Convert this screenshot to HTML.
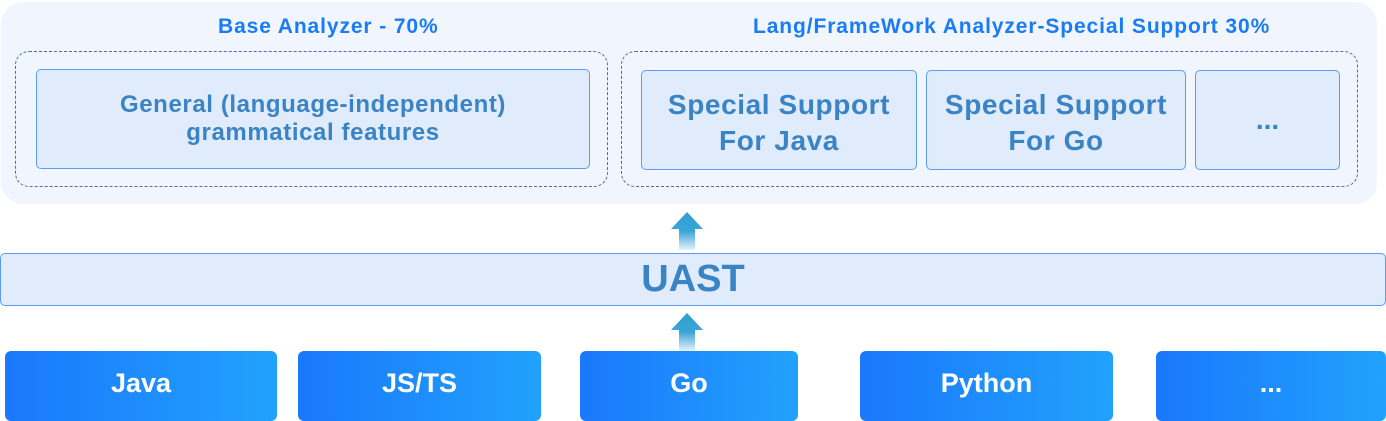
<!DOCTYPE html>
<html><head><meta charset="utf-8"><style>
body{margin:0;width:1386px;height:420px;position:relative;background:#fff;font-family:"Liberation Sans","DejaVu Sans",sans-serif;overflow:hidden}
.a{position:absolute;box-sizing:border-box}
.panel{left:1px;top:2px;width:1376px;height:202px;background:#f1f5fd;border-radius:22px}
.dash{border:1.3px dashed #4a6aa8;border-radius:14px}
.lb{background:#e0ebfc;border:1.3px solid #5c9cf0;border-radius:5px;color:#3a84c6;display:flex;align-items:center;justify-content:center;text-align:center;font-weight:bold}
.t{color:#1a7cf5;font-size:21px;font-weight:bold;white-space:nowrap;letter-spacing:0.9px}
.bt{background:linear-gradient(90deg,#1a78fb,#21a2fd);border-radius:6px;color:#fff;font-weight:bold;font-size:27px;display:flex;align-items:center;justify-content:center;padding-bottom:5px}
.arr{width:34px;height:40px}
</style></head><body>
<div class="a panel"></div>
<div class="a t" style="left:218px;top:15px">Base Analyzer - 70%</div>
<div class="a t" style="left:753px;top:15px">Lang/FrameWork Analyzer-Special Support 30%</div>
<div class="a dash" style="left:15px;top:51px;width:593px;height:136px"></div>
<div class="a dash" style="left:621px;top:51px;width:737px;height:136px"></div>
<div class="a lb" style="left:36px;top:69px;width:554px;height:100px;font-size:24px;line-height:28px;letter-spacing:0.6px">General (language-independent)<br>grammatical features</div>
<div class="a lb" style="left:641px;top:70px;width:276px;height:100px;font-size:28px;line-height:36px;letter-spacing:0.6px;padding-top:6px">Special Support<br>For Java</div>
<div class="a lb" style="left:926px;top:70px;width:260px;height:100px;font-size:28px;line-height:36px;letter-spacing:0.6px;padding-top:6px">Special Support<br>For Go</div>
<div class="a lb" style="left:1195px;top:70px;width:145px;height:100px;font-size:28px">...</div>
<div class="a lb" style="left:0;top:253px;width:1386px;height:53px;font-size:38px">UAST</div>
<svg class="a arr" style="left:670px;top:210px" viewBox="0 0 34 40"><defs><linearGradient id="g" x1="0" y1="0" x2="0" y2="1"><stop offset="0" stop-color="#2f9fd3"/><stop offset=".5" stop-color="#3aa4d8"/><stop offset="1" stop-color="#e6f3fb"/></linearGradient></defs><path d="M17 2 L33 19 L25 19 L25 40 L9 40 L9 19 L1 19Z" fill="url(#g)"/></svg>
<svg class="a arr" style="left:670px;top:311px" viewBox="0 0 34 40"><path d="M17 2 L33 19 L25 19 L25 40 L9 40 L9 19 L1 19Z" fill="url(#g)"/></svg>
<div class="a bt" style="left:5px;top:351px;width:272px;height:70px">Java</div>
<div class="a bt" style="left:298px;top:351px;width:243px;height:70px">JS/TS</div>
<div class="a bt" style="left:580px;top:351px;width:218px;height:70px">Go</div>
<div class="a bt" style="left:860px;top:351px;width:253px;height:70px">Python</div>
<div class="a bt" style="left:1156px;top:351px;width:230px;height:70px">...</div>
</body></html>
